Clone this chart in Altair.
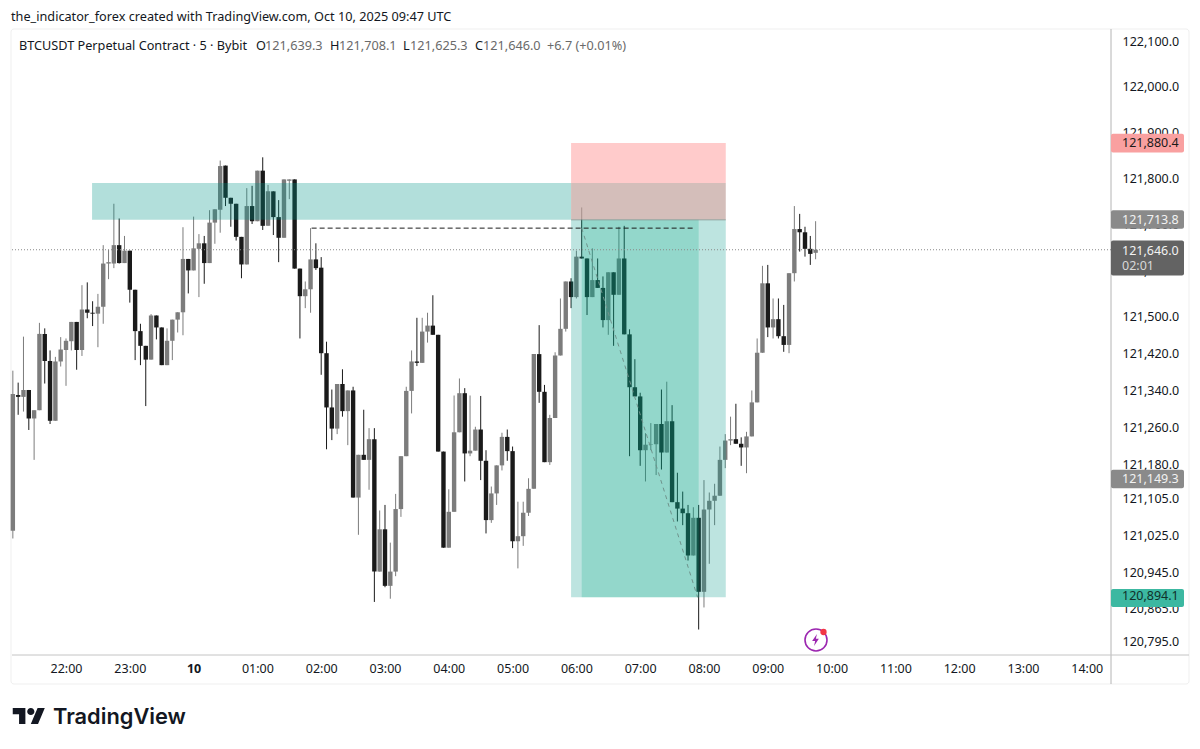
import json
import altair as alt
import pandas as pd

open_ = [121035,121330,121326,121341,121279,121297,121463,121404,121274,121403,
121428,121447,121489,121428,121516,121509,121507,121522,121616,121616,
121656,121617,121644,121559,121469,121437,121407,121503,121477,121395,
121448,121494,121510,121626,121601,121648,121660,121617,121705,121733,
121829,121759,121746,121674,121614,121741,121708,121818,121698,121773,
121717,121672,121796,121799,121605,121545,121560,121625,121607,121421,
121303,121257,121354,121295,121340,121107,121200,121189,121234,120946,
121038,120915,120946,121082,121197,121339,121403,121400,121468,121481,
121461,121207,120998,121076,121249,121334,121203,121209,121255,121187,
121058,121116,121177,121239,121208,121012,121023,121074,121126,121419,
121337,121184,121280,121416,121474,121577,121543,121631,121627,121543,
121580,121563,121493,121597,121548,121627,121462,121347,121327,121210,
121222,121223,121267,121205,121273,121097,121083,121073,120981,121063,
120902,121081,121100,121111,121189,121231,121234,121224,121216,121240,
121314,121422,121573,121477,121495,121458,121439,121595,121691,121684,
121648,121639.3]
high = [121383,121357,121457,121341,121297,121487,121475,121427,121413,121456,
121453,121489,121489,121569,121575,121534,121550,121656,121646,121746,
121714,121676,121644,121559,121485,121437,121506,121503,121477,121475,
121494,121510,121695,121626,121718,121680,121676,121732,121734,121840,
121829,121759,121746,121674,121780,121785,121818,121847,121787,121773,
121754,121799,121799,121799,121605,121577,121693,121660,121630,121446,
121342,121354,121386,121340,121348,121200,121298,121258,121258,121079,
121091,121009,121115,121197,121348,121427,121498,121498,121509,121547,
121461,121207,121125,121329,121366,121345,121329,121261,121328,121210,
121131,121177,121248,121255,121218,121098,121098,121149,121419,121482,
121352,121287,121423,121540,121577,121584,121644,121738,121627,121649,
121627,121588,121597,121597,121696,121698,121473,121408,121335,121247,
121269,121267,121342,121359,121308,121161,121120,121091,121086,121091,
121145,121118,121137,121218,121245,121283,121311,121238,121250,121340,
121453,121611,121613,121540,121540,121526,121595,121741,121724,121696,
121676,121708.1]
low = [121018,121287,121294,121254,121189,121297,121355,121267,121274,121392,
121350,121427,121385,121415,121497,121480,121434,121485,121582,121606,
121616,121617,121531,121406,121395,121306,121407,121451,121395,121395,
121406,121466,121460,121551,121601,121543,121572,121617,121659,121683,
121741,121696,121666,121584,121614,121702,121708,121689,121698,121678,
121619,121672,121756,121605,121453,121519,121509,121602,121374,121212,
121232,121245,121283,121221,121107,121026,121189,121124,120880,120946,
120912,120887,120936,121065,121197,121290,121393,121400,121444,121461,
121207,120998,120998,121076,121249,121142,121197,121209,121145,121029,
121052,121091,121166,121187,120997,120953,121002,121067,121126,121313,
121184,121178,121280,121416,121468,121519,121540,121627,121504,121543,
121563,121477,121461,121437,121548,121462,121197,121327,121176,121142,
121210,121156,121168,121205,121097,121055,121047,120970,120981,120820,
120868,120963,121047,121111,121171,121221,121224,121176,121160,121240,
121314,121422,121456,121453,121453,121424,121421,121577,121642,121631,
121613,121625.3]
close = [121332,121326,121341,121279,121297,121463,121404,121274,121403,121429,
121448,121489,121428,121516,121509,121507,121522,121616,121619,121656,
121617,121644,121559,121469,121437,121407,121503,121477,121395,121448,
121494,121510,121626,121601,121649,121660,121617,121705,121734,121828,
121759,121746,121674,121614,121741,121708,121818,121698,121773,121717,
121672,121799,121799,121605,121545,121560,121625,121606,121421,121303,
121257,121354,121295,121340,121107,121200,121189,121234,120946,121038,
120915,120946,121082,121197,121339,121403,121400,121468,121481,121461,
121207,120998,121076,121249,121334,121203,121209,121255,121187,121058,
121116,121177,121239,121208,121012,121023,121074,121126,121419,121337,
121184,121280,121416,121474,121577,121543,121631,121627,121543,121580,
121563,121493,121597,121548,121627,121462,121347,121327,121210,121222,
121223,121267,121205,121273,121097,121083,121073,120981,121063,120902,
121081,121100,121111,121189,121231,121234,121224,121216,121240,121314,
121422,121573,121477,121495,121458,121439,121595,121691,121684,121648,
121637,121646.0]

minutes = list(range(-50, -50 + 5 * len(close), 5))  # minutes after 22:00, one candle per 5 minutes
price_ticks = [122100,122000,121900,121800,121700,121600,121500,121420,121340,121260,
               121180,121105,121025,120945,120865,120795]
time_ticks = [0,60,120,180,240,300,360,420,480,540,600,660,720,780,840,900,960]
time_labels = ["22:00","23:00","10","01:00","02:00","03:00","04:00","05:00","06:00",
               "07:00","08:00","09:00","10:00","11:00","12:00","13:00","14:00"]
zones = pd.DataFrame([
    {"x0": 24.5, "x1": 475, "p0": 121711, "p1": 121791, "c": "#009688", "o": 0.30},
    {"x0": 475, "x1": 620.5, "p0": 121791, "p1": 121878, "c": "#ff5252", "o": 0.30},
    {"x0": 475, "x1": 620.5, "p0": 121711, "p1": 121791, "c": "#c9aea9", "o": 0.80},
    {"x0": 475, "x1": 620.5, "p0": 120890, "p1": 121711, "c": "#009688", "o": 0.26},
    {"x0": 485, "x1": 595, "p0": 120890, "p1": 121711, "c": "#08ae85", "o": 0.23},
])
entry_line = pd.DataFrame([{"x0": 475, "x1": 620.5, "p": 121711}])
high_line = pd.DataFrame([{"x0": 231, "x1": 590, "p": 121693}])
path_line = pd.DataFrame({"x": [485, 594], "p": [121693, 120890]})
flags = pd.DataFrame([
    {"p": 121880.4, "up": 18, "dn": 23, "fill": "#f9a0a0", "ink": "#1a1a1a"},
    {"p": 121713.8, "up": 18, "dn": 22, "fill": "#8a8a8a", "ink": "#f2f2f2"},
    {"p": 121646.0, "up": 20, "dn": 56, "fill": "#636363", "ink": "#f2f2f2"},
    {"p": 121149.3, "up": 18, "dn": 22, "fill": "#8a8a8a", "ink": "#f2f2f2"},
    {"p": 120894.1, "up": 14, "dn": 25, "fill": "#3cb8a1", "ink": "#10302a"},
])

FONT = "Noto Sans"
W, H = 1099, 626
OX, OY = 12, 29
xs = alt.Scale(domain=[-50.8, 982.8], nice=False, zero=False, padding=0)
ys = alt.Scale(domain=[120764.6, 122126.1], nice=False, zero=False, padding=0)

label_map = json.dumps({str(a): b for a, b in zip(time_ticks, time_labels)})
x_axis = alt.Axis(values=time_ticks, labelExpr=f"{label_map}[datum.value]", grid=False, domain=False,
                  ticks=False, title=None, labelPadding=7, labelFont=FONT, labelFontSize=12.5,
                  labelColor="#131722", labelOverlap=False, labelFlush=False,
                  labelFontWeight={"condition": {"test": "datum.value === 120", "value": "bold"}, "value": "normal"})
y_axis = alt.Axis(values=price_ticks, format=",.1f", orient="right", grid=False, domain=False, ticks=False,
                  title=None, labelPadding=11, labelFont=FONT, labelFontSize=12.5, labelColor="#131722",
                  labelOverlap=False, labelFlush=False)

df = pd.DataFrame({"t": minutes, "o": open_, "h": high, "l": low, "c": close})
df["dir"] = ["up" if c >= o else "down" for o, c in zip(open_, close)]


def X(f):
    return alt.X(f, type="quantitative", scale=xs, axis=x_axis)


def Y(f):
    return alt.Y(f, type="quantitative", scale=ys, axis=y_axis)


def text(s, ax, ay, color="#131722", size=12.7, weight=400, align="left", font=FONT):
    return alt.Chart(pd.DataFrame({"s": [s]})).mark_text(
        align=align, baseline="middle", font=font, fontSize=size, fontWeight=weight, color=color
    ).encode(text="s:N", x=alt.value(ax - OX), y=alt.value(ay - OY))


def rule_px(color, **enc):
    return alt.Chart(pd.DataFrame({"a": [0]})).mark_rule(color=color, strokeWidth=1).encode(**enc)


panel = alt.Chart(pd.DataFrame({"a": [0]})).mark_rect(
    filled=False, stroke="#efefef", strokeWidth=1, cornerRadius=3
).encode(x=alt.value(-1), x2=alt.value(1177), y=alt.value(0), y2=alt.value(655))

wicks = alt.Chart(df).mark_rule(strokeWidth=1).encode(
    x=X("t"), y=Y("l"), y2="h:Q",
    color=alt.Color("dir:N", scale=alt.Scale(domain=["up", "down"], range=["#7c7c7c", "#1a1a1a"]), legend=None),
)
bodies = alt.Chart(df).mark_bar(size=4.4).encode(
    x=X("t"), y=Y("o"), y2="c:Q",
    color=alt.Color("dir:N", scale=alt.Scale(domain=["up", "down"], range=["#656565", "#000000"]), legend=None),
)
zone_rects = alt.Chart(zones).mark_rect().encode(
    x=X("x0"), x2="x1:Q", y=Y("p0"), y2="p1:Q",
    color=alt.Color("c:N", scale=None), opacity=alt.Opacity("o:Q", scale=None),
)
entry = alt.Chart(entry_line).mark_rule(color="#7f8f8a", opacity=0.7, strokeWidth=1).encode(
    x=X("x0"), x2="x1:Q", y=Y("p"))
dashed = alt.Chart(high_line).mark_rule(color="#1c1c1c", strokeWidth=1, strokeDash=[5, 3]).encode(
    x=X("x0"), x2="x1:Q", y=Y("p"))
diag = alt.Chart(path_line).mark_line(color="#6f938c", strokeWidth=1, strokeDash=[4, 4]).encode(
    x=X("x"), y=Y("p"))
last_price = alt.Chart(pd.DataFrame({"p": [121646.0]})).mark_rule(
    color="#8a8a8a", strokeWidth=1, strokeDash=[1, 2]).encode(y=Y("p"))

axis_v = rule_px("#b4b4b4", x=alt.value(W), y=alt.value(0), y2=alt.value(655))
axis_h = rule_px("#c4c4c4", x=alt.value(0), x2=alt.value(1177), y=alt.value(H))

flag_rects = alt.Chart(flags).transform_calculate(
    top="datum.p + datum.up", bot="datum.p - datum.dn"
).mark_rect(cornerRadius=2).encode(
    x=alt.value(W), x2=alt.value(W + 73), y=Y("top"), y2="bot:Q",
    color=alt.Color("fill:N", scale=None),
)
flag_text = alt.Chart(flags).transform_calculate(
    lab="format(datum.p, ',.1f')"
).mark_text(align="left", baseline="middle", font=FONT, fontSize=12.5, dy=1).encode(
    x=alt.value(1122 - OX), y=Y("p"), text="lab:N", color=alt.Color("ink:N", scale=None),
)


def glyph(path_or_name, ax, ay, size, **kw):
    return alt.Chart(pd.DataFrame({"a": [0]})).mark_point(shape=path_or_name, size=size, opacity=1, **kw).encode(
        x=alt.value(ax - OX), y=alt.value(ay - OY))


BOLT = "M 0.12 -0.5 L -0.28 0.08 L -0.03 0.08 L -0.12 0.5 L 0.28 -0.1 L 0.03 -0.1 Z"
LOGO = ("M -0.222 0.5 L -0.611 0.5 L -0.611 -0.111 L -1 -0.111 L -1 -0.5 L -0.222 -0.5 Z "
        "M 0.556 0.5 L 0.111 0.5 L 0.528 -0.5 L 0.972 -0.5 Z "
        "M -0.111 -0.278 A 0.222 0.222 0 1 1 0.333 -0.278 A 0.222 0.222 0 1 1 -0.111 -0.278 Z")

chart = alt.layer(
    panel, axis_v, axis_h, wicks, bodies, zone_rects, entry, dashed, diag, last_price,
    flag_rects, flag_text,
    text("02:01", 1122, 266, color="#d8d8d8", size=12.5),
    glyph("circle", 816, 640, 484, filled=False, stroke="#9c27b0", strokeWidth=1.6),
    glyph(BOLT, 815.5, 640, 576, filled=True, fill="#9c27b0", strokeWidth=0),
    glyph("circle", 823.5, 632, 40, filled=True, fill="#f23645", strokeWidth=0),
    text("the_indicator_forex created with TradingView.com, Oct 10, 2025 09:47 UTC", 11, 17),
    text("BTCUSDT Perpetual Contract · 5 · Bybit", 19, 46),
    text("O", 256, 46), text("121,639.3", 265, 46, color="#6a6a6a"),
    text("H", 330, 46), text("121,708.1", 339, 46, color="#6a6a6a"),
    text("L", 403, 46), text("121,625.3", 410, 46, color="#6a6a6a"),
    text("C", 475, 46), text("121,646.0", 483, 46, color="#6a6a6a"),
    text("+6.7 (+0.01%)", 547, 46, color="#6a6a6a"),
    glyph(LOGO, 29, 716, 1056, filled=True, fill="#131722", strokeWidth=0),
    text("TradingView", 53, 717, size=21.8, weight=600, font="Inter"),
).properties(
    width=W, height=H,
    autosize=alt.AutoSizeParams(type="none"),
    padding={"left": 4, "top": 21, "right": 81, "bottom": 80},
).configure_view(stroke=None)

chart.save("out.html", embed_options={"renderer": "svg", "actions": False})
